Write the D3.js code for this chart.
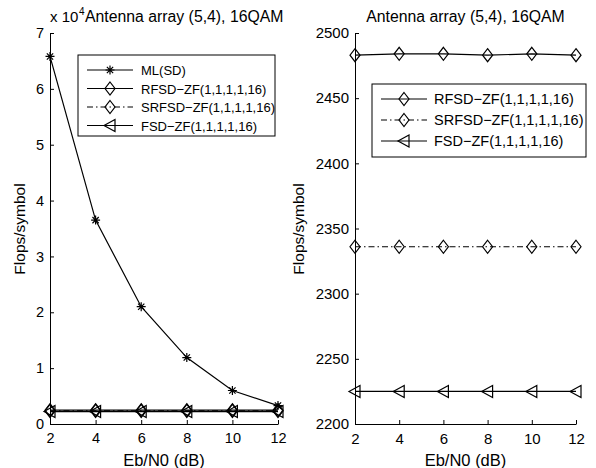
<!DOCTYPE html>
<html>
<head>
<meta charset="utf-8">
<script src="https://cdn.jsdelivr.net/npm/d3@7"></script>
<style>
  body { margin: 0; background: #fff; }
  text { font-family: "Liberation Sans", Arial, sans-serif; fill: #000; }
</style>
</head>
<body>
<svg width="596" height="468"></svg>
<script>
let width = 596;
let height = 468;
let svg = d3.select("svg");

// data
let snr = [2, 4, 6, 8, 10, 12];
let mlSD = [65800, 36500, 21000, 11900, 6000, 3300];
let rfsd = [2483, 2484, 2484, 2483, 2484, 2483];
let srfsd = [2336, 2336, 2336, 2336, 2336, 2336];
let fsd = [2225, 2225, 2225, 2225, 2225, 2225];

let xTicks = [2, 4, 6, 8, 10, 12];
let leftTicks = [0, 10000, 20000, 30000, 40000, 50000, 60000, 70000];
let rightTicks = [2200, 2250, 2300, 2350, 2400, 2450, 2500];

let title = "Antenna array (5,4), 16QAM";

let series = [
  { name: "ML(SD)", values: mlSD, marker: "star", dash: null },
  { name: "RFSD\u2212ZF(1,1,1,1,16)", values: rfsd, marker: "diamond", dash: null },
  { name: "SRFSD\u2212ZF(1,1,1,1,16)", values: srfsd, marker: "diamond", dash: "6,3,1.5,3" },
  { name: "FSD\u2212ZF(1,1,1,1,16)", values: fsd, marker: "triangle", dash: null }
];

function drawMarker(g, type, x, y) {
  if (type === "star") {
    let r = 4.5;
    g.append("path")
     .attr("d", `M${x - r},${y}H${x + r}M${x},${y - r}V${y + r}` +
                `M${x - r * 0.7},${y - r * 0.7}L${x + r * 0.7},${y + r * 0.7}` +
                `M${x - r * 0.7},${y + r * 0.7}L${x + r * 0.7},${y - r * 0.7}`)
     .attr("stroke", "#000").attr("stroke-width", 1.2).attr("fill", "none");
  } else if (type === "diamond") {
    g.append("path")
     .attr("d", `M${x},${y - 6.5}L${x + 5},${y}L${x},${y + 6.5}L${x - 5},${y}Z`)
     .attr("stroke", "#000").attr("stroke-width", 1.2).attr("fill", "none");
  } else {
    g.append("path")
     .attr("d", `M${x - 6},${y}L${x + 5},${y - 6}L${x + 5},${y + 6}Z`)
     .attr("stroke", "#000").attr("stroke-width", 1.2).attr("fill", "none");
  }
}

function panel(opts) {
  let g = svg.append("g");
  let xScale = d3.scaleLinear().domain([2, 12]).range([opts.x0, opts.x1]);
  let yScale = d3.scaleLinear().domain(opts.yDomain).range([424, 33]);

  let line = d3.line()
               .x((d, i) => xScale(snr[i]))
               .y((d) => yScale(d));

  opts.series.forEach((s) => {
    g.append("path")
     .datum(s.values)
     .attr("d", line)
     .attr("fill", "none")
     .attr("stroke", "#000")
     .attr("stroke-width", 1.2)
     .attr("stroke-dasharray", s.dash);
    s.values.forEach((v, i) => drawMarker(g, s.marker, xScale(snr[i]), yScale(v)));
  });

  // axes: MATLAB style, inward ticks, no box
  let xAxis = g.append("g")
               .attr("transform", "translate(0,424)")
               .call(d3.axisBottom(xScale).tickValues(xTicks).tickSizeInner(-4).tickSizeOuter(0).tickPadding(9));
  let yAxis = g.append("g")
               .attr("transform", "translate(" + opts.x0 + ",0)")
               .call(d3.axisLeft(yScale).tickValues(opts.yTicks).tickFormat(opts.fmt).tickSizeInner(-4).tickSizeOuter(0).tickPadding(6));
  [xAxis, yAxis].forEach((a) => {
    a.selectAll("text").style("font-size", opts.tickSize + "px").attr("fill", "#000");
    a.selectAll("line, path").attr("stroke", "#000");
  });

  g.append("text")
   .attr("x", (opts.x0 + opts.x1) / 2)
   .attr("y", 466)
   .attr("text-anchor", "middle")
   .style("font-size", "16.5px")
   .text("Eb/N0 (dB)");

  g.append("text")
   .attr("transform", "translate(" + opts.yLabelX + ",229) rotate(-90)")
   .attr("text-anchor", "middle")
   .style("font-size", "15.5px")
   .text("Flops/symbol");

  // legend
  let lg = opts.legend;
  g.append("rect")
   .attr("x", lg.x).attr("y", lg.y)
   .attr("width", lg.w).attr("height", lg.h)
   .attr("fill", "#fff").attr("stroke", "#000").attr("stroke-width", 1);
  opts.series.forEach((s, i) => {
    let yy = lg.y + 15 + i * lg.step;
    g.append("line")
     .attr("x1", lg.x + 9).attr("x2", lg.x + 55)
     .attr("y1", yy).attr("y2", yy)
     .attr("stroke", "#000").attr("stroke-width", 1.2)
     .attr("stroke-dasharray", s.dash);
    drawMarker(g, s.marker, lg.x + 32, yy);
    g.append("text")
     .attr("x", lg.x + lg.tx).attr("y", yy + 5)
     .style("font-size", lg.fs + "px")
     .text(s.name);
  });
  return g;
}

panel({
  x0: 50, x1: 278,
  yDomain: [0, 70000], yTicks: leftTicks, fmt: (d) => d / 10000,
  yLabelX: 25, tickSize: 14.5,
  series: series,
  legend: { x: 78, y: 55, w: 197, h: 81, step: 18.5, tx: 63, fs: 13 }
});

panel({
  x0: 355, x1: 576,
  yDomain: [2200, 2500], yTicks: rightTicks, fmt: d3.format("d"),
  yLabelX: 304, tickSize: 15,
  series: series.slice(1),
  legend: { x: 372, y: 84, w: 214, h: 73, step: 21, tx: 62, fs: 14.5 }
});

// titles and exponent
svg.append("text").attr("x", 50).attr("y", 22).style("font-size", "15px")
   .text("x 10");
svg.append("text").attr("x", 79).attr("y", 15).style("font-size", "10px")
   .text("4");
svg.append("text").attr("x", 85).attr("y", 22).style("font-size", "15.8px")
   .text(title);
svg.append("text").attr("x", 465.5).attr("y", 22).attr("text-anchor", "middle").style("font-size", "15.8px")
   .text(title);
</script>
</body>
</html>
